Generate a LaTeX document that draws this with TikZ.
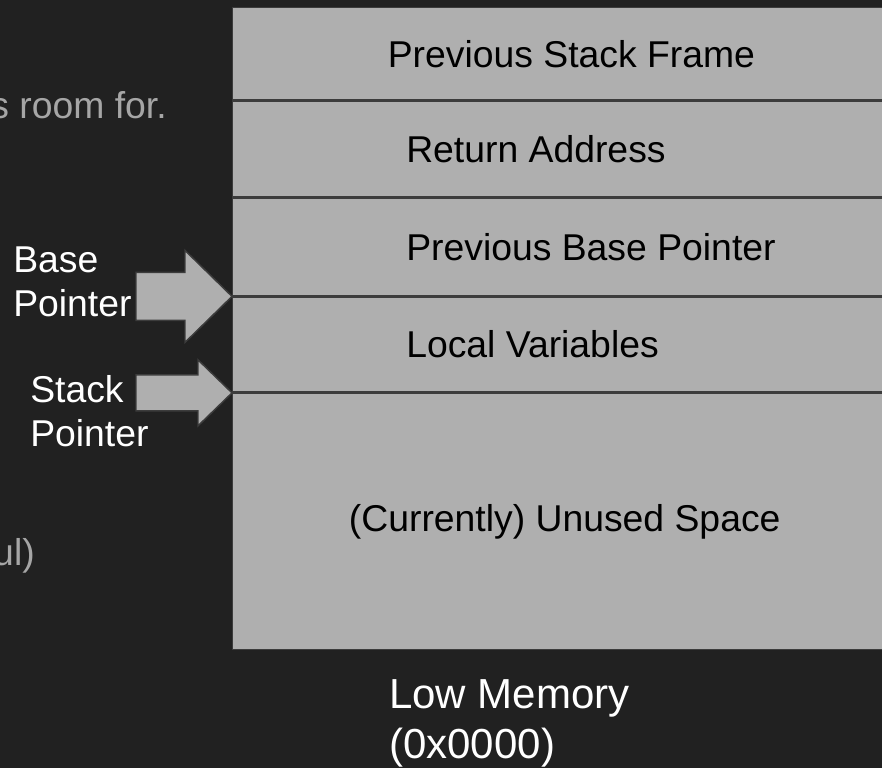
\documentclass[tikz,border=0pt]{standalone}
\usepackage{fontspec}
\setmainfont{Liberation Sans}
\usepackage{tikz}
\usetikzlibrary{positioning}
\definecolor{slidebg}{HTML}{212121}
\definecolor{cellfill}{HTML}{AFAFAF}
\definecolor{cellline}{HTML}{3C3C3C}
\definecolor{fadedtext}{HTML}{A6A6A6}

\begin{document}
\begin{tikzpicture}[
  x=0.75pt, y=-0.75pt,
  cell/.style={draw=cellline, fill=cellfill, line width=1.1pt, minimum width=498pt,
               inner sep=0pt, font=\fontsize{28}{33}\selectfont},
  celltext/.style={anchor=west, inner sep=0pt, font=\fontsize{28}{33}\selectfont},
  ptrarrow/.style={draw=cellline, fill=cellfill, line width=1.1pt, line join=miter},
  ptrlabel/.style={anchor=north west, inner sep=0pt, align=left, text=white,
                   font=\fontsize{28}{33}\selectfont},
  fadedline/.style={anchor=base east, inner sep=0pt, text=fadedtext,
                    font=\fontsize{28}{33}\selectfont},
]
  \path[use as bounding box, fill=slidebg] (0,0) rectangle (882,768);
  \clip (0,0) rectangle (882,768);

  \node[fadedline] (roomfor) at (167,118) {s room for.};
  \node[fadedline] (useful) at (35,565) {ul)};

  \node[cell, minimum height=69pt, anchor=north west] (prevframe) at (232,7) {\hspace*{10pt}Previous Stack Frame};
  \node[cell, minimum height=72pt, below=0pt of prevframe] (retaddr) {};
  \node[cell, minimum height=72.75pt, below=0pt of retaddr] (prevbase) {};
  \node[cell, minimum height=71.25pt, below=0pt of prevbase] (locals) {};
  \node[cell, minimum height=192pt, below=0pt of locals] (unused) {(Currently) Unused Space};

  \node[celltext] at ([xshift=130.5pt]retaddr.west) {Return Address};
  \node[celltext] at ([xshift=130.5pt]prevbase.west) {Previous Base Pointer};
  \node[celltext] at ([xshift=130.5pt]locals.west) {Local Variables};

  \draw[ptrarrow] (prevbase.south west) -- ++(-47,-46) -- ++(0,22) -- ++(-49,0)
    -- ++(0,48) -- ++(49,0) -- ++(0,22) -- cycle;
  \draw[ptrarrow] (locals.south west) -- ++(-34,-33) -- ++(0,15) -- ++(-62,0)
    -- ++(0,36) -- ++(62,0) -- ++(0,15) -- cycle;

  \node[ptrlabel] (baseptr) at (13,247) {Base\\Pointer};
  \node[ptrlabel] (stackptr) at (30,375) {Stack\\Pointer};

  \node[ptrlabel, font=\fontsize{31.5}{37.5}\selectfont] (lowmem) at (389,679) {Low Memory\\(0x0000)};
\end{tikzpicture}
\end{document}
